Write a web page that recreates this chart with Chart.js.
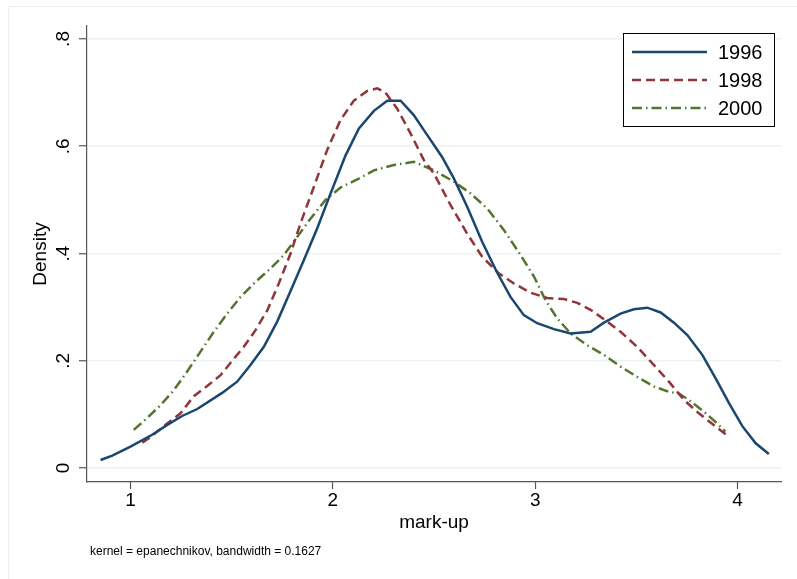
<!DOCTYPE html>
<html>
<head>
<meta charset="utf-8">
<script src="https://cdn.jsdelivr.net/npm/chart.js@4/dist/chart.umd.min.js"></script>
<style>
  body { margin: 0; background: #fff; }
  canvas { display: block; }
</style>
</head>
<body>
<canvas id="kdens" width="797" height="579"></canvas>
<script>
// tick labels
const xTicks = [1, 2, 3, 4];
const yTicks = [0, 0.2, 0.4, 0.6, 0.8];
const seriesNames = ['1996', '1998', '2000'];
const noteText = 'kernel = epanechnikov, bandwidth = 0.1627';

// density estimates
const x1996 = [0.852, 0.91, 1.0, 1.107, 1.18, 1.255, 1.33, 1.453, 1.527, 1.593, 1.659, 1.725, 1.79, 1.857, 1.923, 1.989, 2.063, 2.129, 2.203, 2.269, 2.335, 2.4, 2.45, 2.54, 2.598, 2.664, 2.738, 2.81, 2.878, 2.944, 3.01, 3.093, 3.175, 3.274, 3.34, 3.422, 3.488, 3.554, 3.62, 3.686, 3.752, 3.826, 3.892, 3.958, 4.024, 4.09, 4.155];
const d1996 = [0.015, 0.023, 0.04, 0.062, 0.08, 0.097, 0.11, 0.14, 0.161, 0.192, 0.226, 0.273, 0.329, 0.388, 0.447, 0.512, 0.583, 0.633, 0.666, 0.685, 0.685, 0.658, 0.63, 0.58, 0.54, 0.487, 0.422, 0.366, 0.319, 0.285, 0.27, 0.259, 0.251, 0.254, 0.271, 0.288, 0.296, 0.299, 0.29, 0.271, 0.248, 0.211, 0.167, 0.121, 0.078, 0.046, 0.026];

const x1998 = [1.058, 1.107, 1.181, 1.247, 1.313, 1.379, 1.445, 1.511, 1.56, 1.618, 1.676, 1.733, 1.791, 1.84, 1.906, 1.972, 2.038, 2.104, 2.17, 2.22, 2.26, 2.318, 2.384, 2.45, 2.5, 2.582, 2.664, 2.738, 2.82, 2.895, 2.977, 3.06, 3.142, 3.208, 3.274, 3.356, 3.422, 3.504, 3.587, 3.661, 3.735, 3.809, 3.883, 3.958];
const d1998 = [0.047, 0.06, 0.083, 0.102, 0.134, 0.153, 0.173, 0.204, 0.226, 0.257, 0.294, 0.344, 0.4, 0.456, 0.524, 0.593, 0.649, 0.685, 0.703, 0.708, 0.7, 0.67, 0.624, 0.574, 0.549, 0.49, 0.437, 0.394, 0.363, 0.344, 0.327, 0.317, 0.315, 0.308, 0.295, 0.273, 0.254, 0.226, 0.192, 0.161, 0.127, 0.102, 0.08, 0.058];

const x2000 = [1.016, 1.082, 1.148, 1.214, 1.28, 1.346, 1.412, 1.478, 1.544, 1.618, 1.692, 1.758, 1.824, 1.89, 1.964, 2.038, 2.121, 2.203, 2.302, 2.4, 2.5, 2.598, 2.681, 2.763, 2.845, 2.928, 2.994, 3.051, 3.109, 3.175, 3.257, 3.34, 3.422, 3.504, 3.587, 3.661, 3.71, 3.759, 3.834, 3.9, 3.94];
const d2000 = [0.071, 0.093, 0.117, 0.145, 0.18, 0.217, 0.254, 0.288, 0.319, 0.347, 0.372, 0.397, 0.431, 0.465, 0.5, 0.523, 0.538, 0.555, 0.565, 0.571, 0.555, 0.534, 0.512, 0.484, 0.444, 0.397, 0.357, 0.313, 0.279, 0.251, 0.229, 0.211, 0.189, 0.17, 0.152, 0.142, 0.139, 0.127, 0.105, 0.083, 0.068];

const FONT = 'Liberation Sans, Arial, Helvetica, sans-serif';
const AXIS = '#555';

const pts = (xs, ys) => xs.map((x, i) => ({ x: x, y: ys[i] }));

// outer frame + note under the graph
const framePlugin = {
	id: 'frame',
	beforeDraw(chart) {
		const ctx = chart.ctx;
		ctx.save();
		ctx.fillStyle = '#fff';
		ctx.fillRect(0, 0, chart.width, chart.height);
		ctx.strokeStyle = '#eaf0f2';
		ctx.lineWidth = 1;
		ctx.strokeRect(8.5, 6.5, chart.width + 10, chart.height + 10);
		ctx.restore();
	},
	afterDraw(chart) {
		const ctx = chart.ctx;
		ctx.save();
		ctx.fillStyle = '#000';
		ctx.font = '12px ' + FONT;
		ctx.textBaseline = 'alphabetic';
		ctx.fillText(noteText, 90, 555);
		ctx.restore();
	}
};

// Stata style legend box inside the plot region
const boxLegend = {
	id: 'boxLegend',
	afterDatasetsDraw(chart) {
		const ctx = chart.ctx;
		const sets = chart.data.datasets;
		ctx.save();
		ctx.fillStyle = '#fff';
		ctx.fillRect(623.5, 33.5, 151, 93);
		ctx.strokeStyle = '#000';
		ctx.lineWidth = 1;
		ctx.strokeRect(623.5, 33.5, 151, 93);
		sets.forEach((ds, i) => {
			const y = 52 + i * 28;
			ctx.strokeStyle = ds.borderColor;
			ctx.lineWidth = ds.borderWidth;
			ctx.setLineDash(ds.borderDash || []);
			ctx.beginPath();
			ctx.moveTo(632, y);
			ctx.lineTo(707, y);
			ctx.stroke();
			ctx.setLineDash([]);
			ctx.fillStyle = '#000';
			ctx.font = '20px ' + FONT;
			ctx.textBaseline = 'middle';
			ctx.fillText(ds.label, 718, y + 1);
		});
		ctx.restore();
	}
};

new Chart(document.getElementById('kdens').getContext('2d'), {
	type: 'line',
	data: {
		datasets: [
			{
				label: seriesNames[0],
				data: pts(x1996, d1996),
				borderColor: '#1a476f',
				borderWidth: 2.5,
				pointRadius: 0,
				fill: false
			},
			{
				label: seriesNames[1],
				data: pts(x1998, d1998),
				borderColor: '#90353b',
				borderDash: [9, 5],
				borderWidth: 2.5,
				pointRadius: 0,
				fill: false
			},
			{
				label: seriesNames[2],
				data: pts(x2000, d2000),
				borderColor: '#55752f',
				borderDash: [10, 4, 1.5, 4],
				borderWidth: 2.5,
				pointRadius: 0,
				fill: false
			}
		]
	},
	options: {
		responsive: false,
		animation: false,
		events: [],
		layout: { padding: { left: 0, top: 26, right: 16, bottom: 0 } },
		plugins: {
			legend: { display: false },
			tooltip: { enabled: false }
		},
		scales: {
			x: {
				type: 'linear',
				min: 0.785,
				max: 4.215,
				afterBuildTicks: s => { s.ticks = xTicks.map(v => ({ value: v })); },
				afterFit: s => { s.height = 97; },
				border: { color: AXIS, width: 1.2 },
				grid: { drawOnChartArea: false, tickLength: 7, tickColor: AXIS, tickWidth: 1.2 },
				ticks: {
					color: '#000',
					font: { family: FONT, size: 19, lineHeight: 1 },
					padding: 2,
					maxRotation: 0,
					callback: v => String(v)
				},
				title: {
					display: true,
					text: 'mark-up',
					color: '#000',
					font: { family: FONT, size: 19, lineHeight: 1.2 },
					padding: { top: 0, bottom: 45 }
				}
			},
			y: {
				type: 'linear',
				min: -0.0261,
				max: 0.8242,
				afterBuildTicks: s => { s.ticks = yTicks.map(v => ({ value: v })); },
				afterFit: s => { s.width = 87; },
				border: { color: AXIS, width: 1.2 },
				grid: { color: '#eaf2f3', lineWidth: 1.5, tickLength: 8, tickColor: AXIS, tickWidth: 1.2 },
				ticks: {
					color: '#000',
					font: { family: FONT, size: 19, lineHeight: 1 },
					minRotation: 90,
					maxRotation: 90,
					crossAlign: 'center',
					padding: 7,
					callback: v => (v === 0 ? '0' : String(Math.round(v * 10) / 10).replace(/^0/, ''))
				},
				title: {
					display: true,
					text: 'Density',
					color: '#000',
					font: { family: FONT, size: 19, lineHeight: 1.2 },
					padding: { top: 29, bottom: 0 }
				}
			}
		}
	},
	plugins: [framePlugin, boxLegend]
});
</script>
</body>
</html>
